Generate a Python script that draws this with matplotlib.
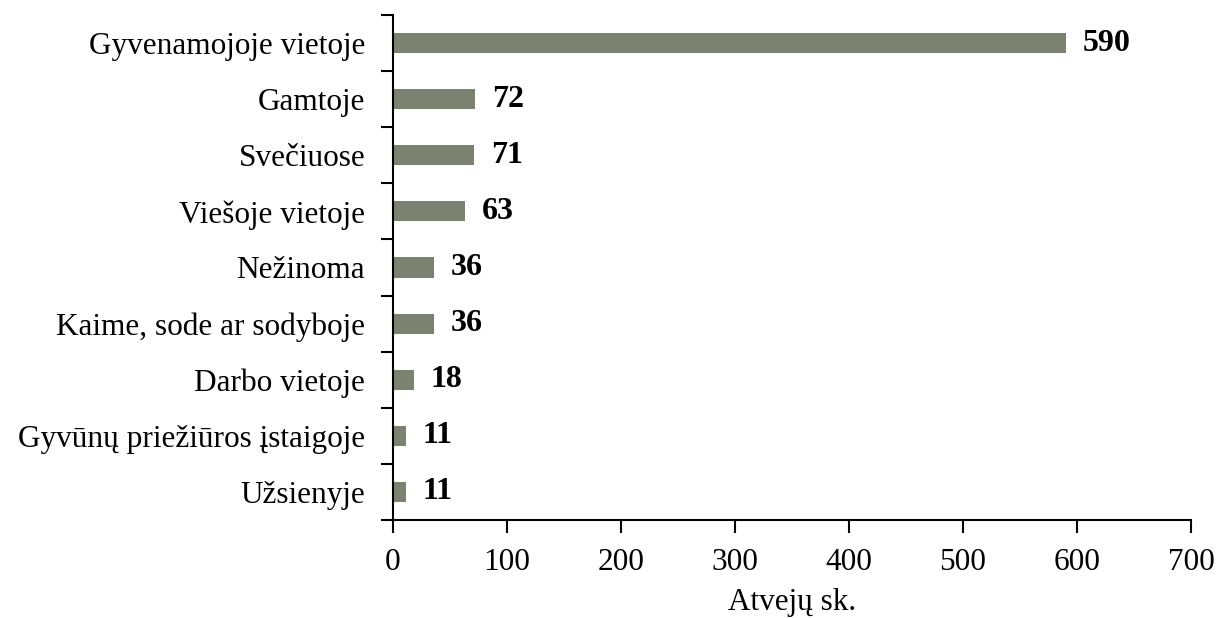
import matplotlib
matplotlib.use('Agg')
import matplotlib.pyplot as plt
import numpy as np

# Duomenys
categories = ['Gyvenamojoje vietoje', 'Gamtoje', 'Svečiuose', 'Viešoje vietoje',
              'Nežinoma', 'Kaime, sode ar sodyboje', 'Darbo vietoje',
              'Gyvūnų priežiūros įstaigoje', 'Užsienyje']
values = [590, 72, 71, 63, 36, 36, 18, 11, 11]
x_ticks = [0, 100, 200, 300, 400, 500, 600, 700]

plt.rcParams['font.family'] = ['Liberation Serif', 'DejaVu Serif']

fig = plt.figure(figsize=(12.19, 6.18), dpi=100)
ax = fig.add_axes([393 / 1219, 1 - 520 / 618, (1191 - 393) / 1219, (520 - 15) / 618])

n = len(categories)
y = np.arange(n)[::-1]
ax.barh(y, values, height=0.36, color='#7b8270')

for yi, v in zip(y, values):
    ax.text(v + 15, yi, str(v), va='center', ha='left', fontsize=23, fontweight='bold')

ax.set_xlim(0, 700)
ax.set_ylim(-0.5, n - 0.5)
ax.set_xticks(x_ticks)
ax.set_xticklabels([str(t) for t in x_ticks], fontsize=22.5)
ax.set_yticks(y)
ax.set_yticklabels(categories, fontsize=22.5)
ax.tick_params(axis='y', length=0, pad=20)
ax.set_yticks(np.arange(-0.5, n, 1.0), minor=True)
ax.tick_params(axis='y', which='minor', length=9, width=1.5, direction='out')
ax.tick_params(axis='x', length=9, width=1.5, direction='out', pad=11)

for s in ['top', 'right']:
    ax.spines[s].set_visible(False)
for s in ['left', 'bottom']:
    ax.spines[s].set_linewidth(1.5)

ax.set_xlabel('Atvejų sk.', fontsize=22.5, labelpad=8)

fig.savefig('out.png', dpi=100)
